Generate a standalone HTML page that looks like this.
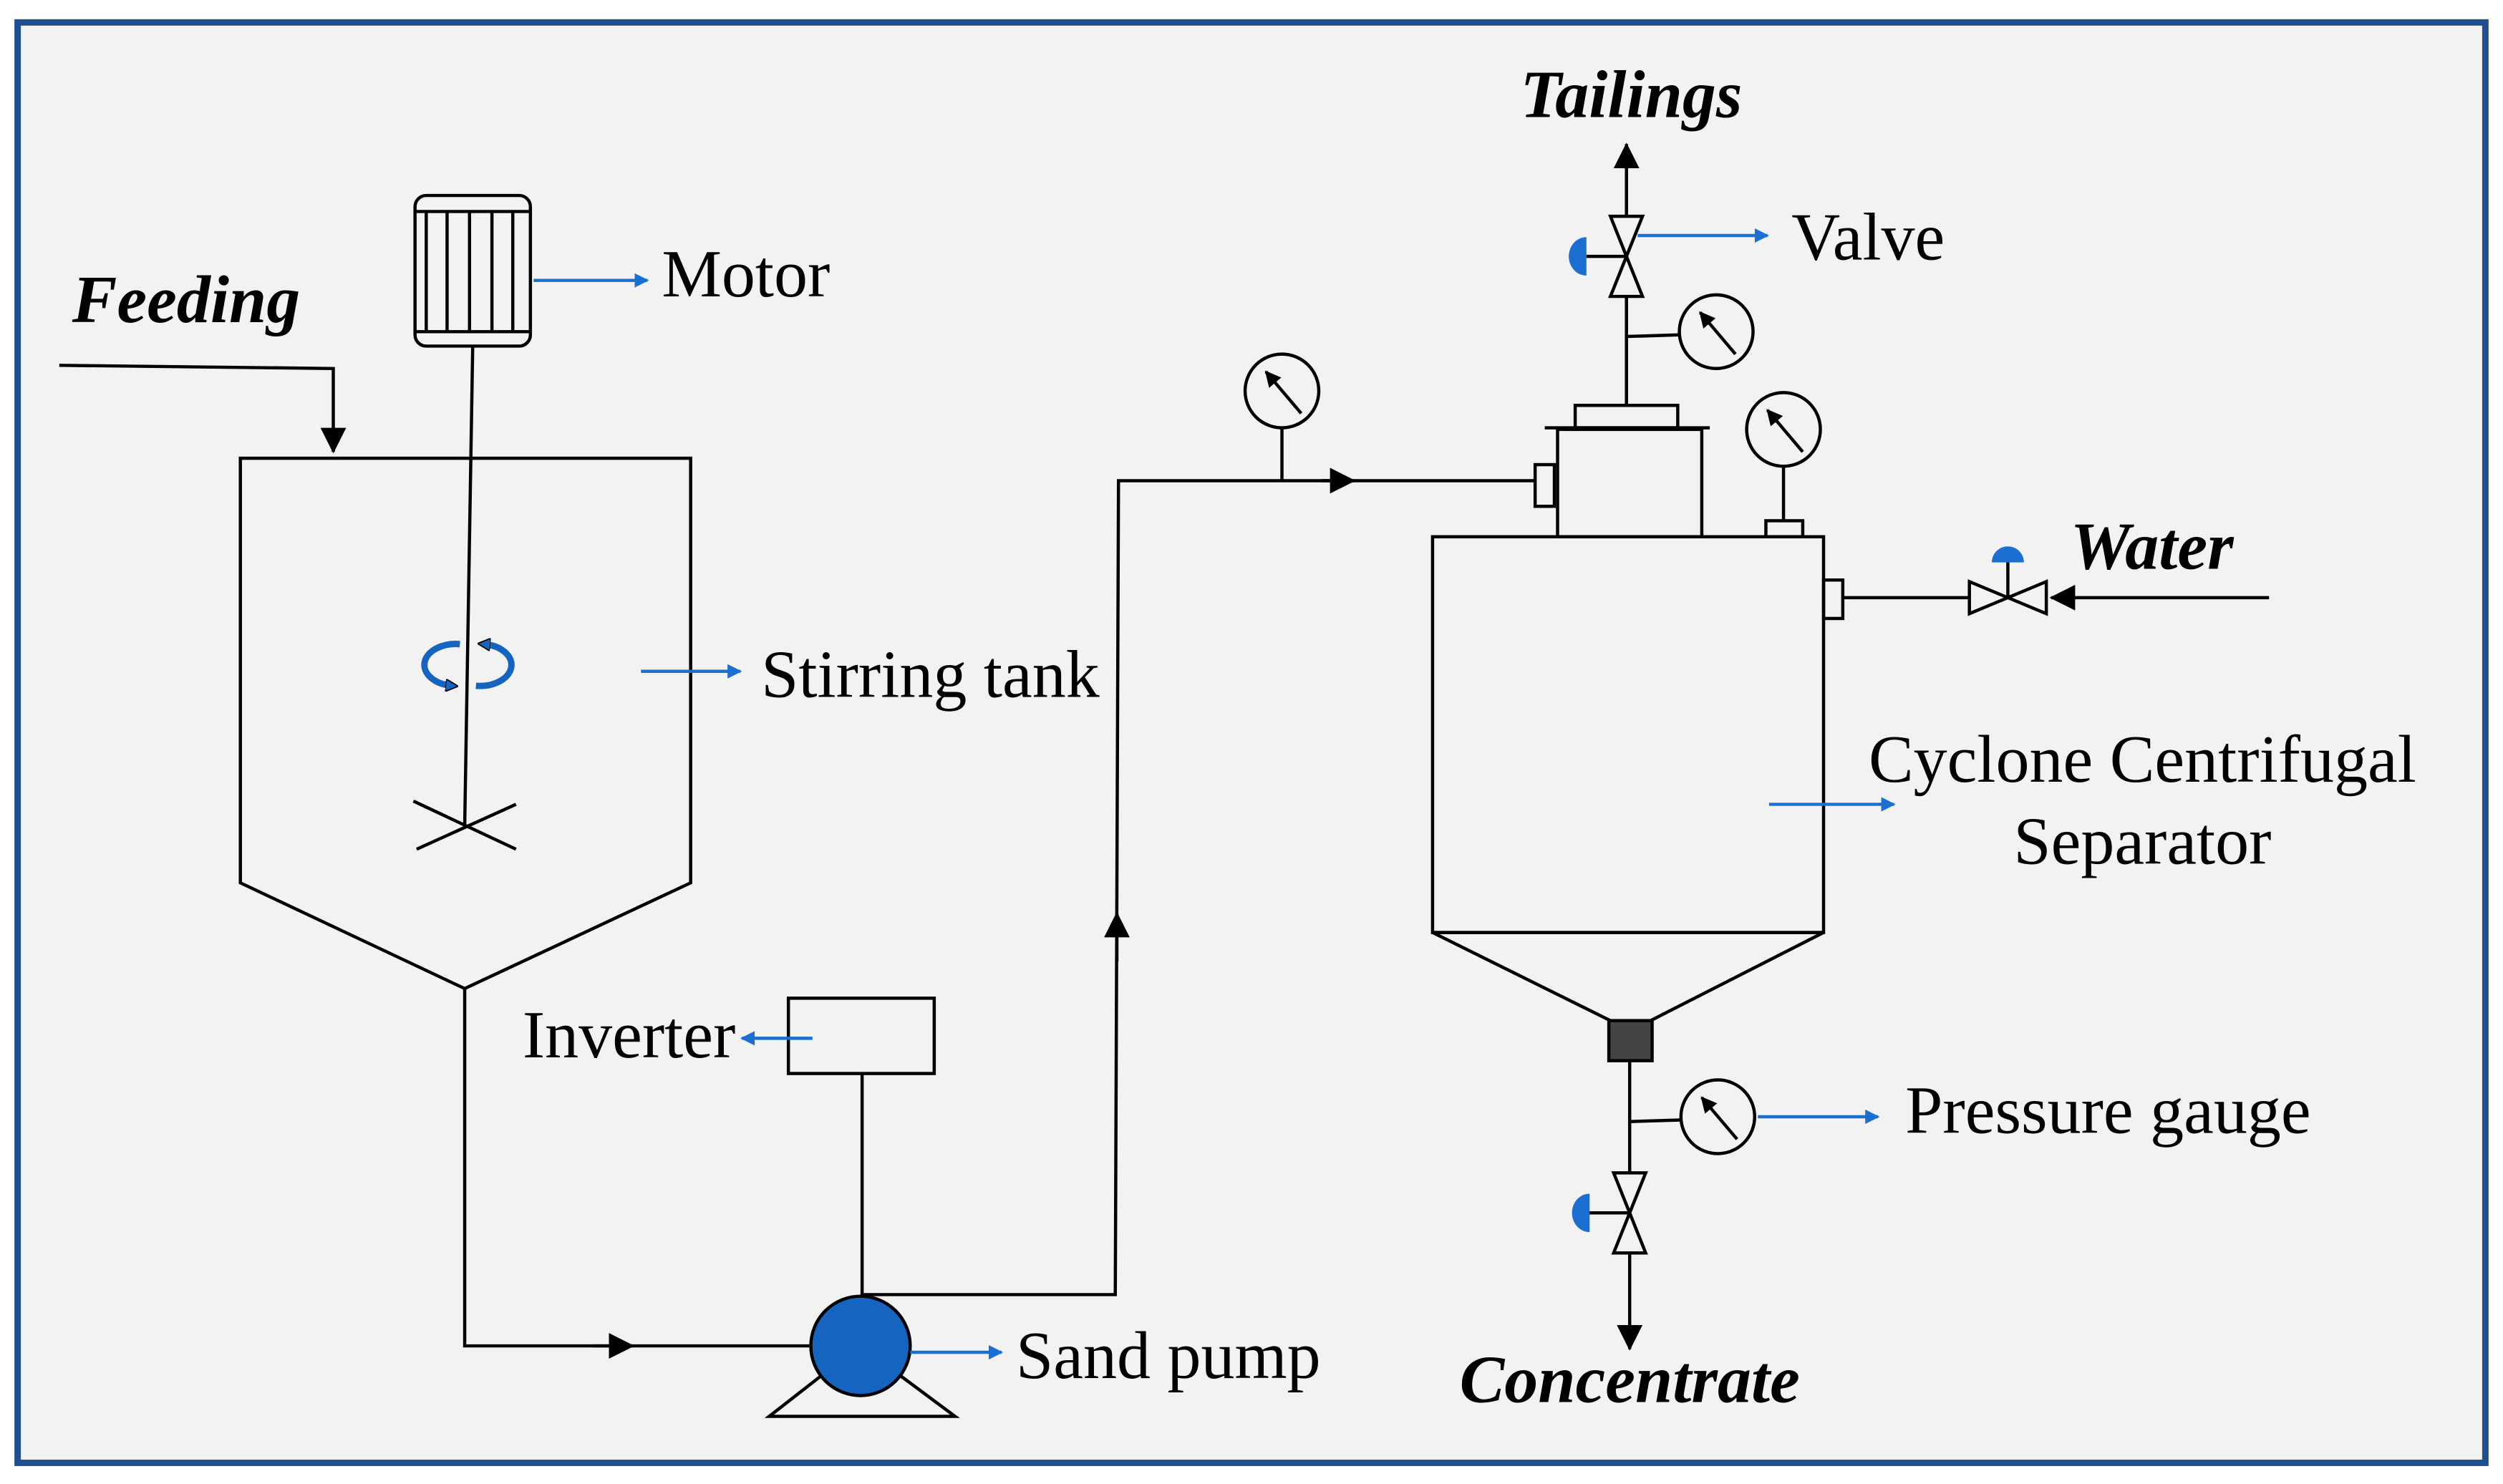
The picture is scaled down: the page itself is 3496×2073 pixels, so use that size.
<!DOCTYPE html>
<html><head><meta charset="utf-8"><style>html,body{margin:0;padding:0;background:#fff}svg{display:block}</style></head>
<body>
<svg width="3496" height="2073" viewBox="0 0 1562 926.2" preserveAspectRatio="none" xmlns="http://www.w3.org/2000/svg" font-family="Liberation Serif, serif">
<defs>
<marker id="ab" markerWidth="10" markerHeight="10" refX="9" refY="5" orient="auto" markerUnits="userSpaceOnUse"><path d="M0,0 L10,5 L0,10 z" fill="#000"/></marker>
<marker id="bl" markerWidth="9" markerHeight="9" refX="8" refY="4.5" orient="auto" markerUnits="userSpaceOnUse"><path d="M0,0 L9,4.5 L0,9 z" fill="#1a6fd0"/></marker>
<marker id="big" markerWidth="16" markerHeight="16" refX="15" refY="8" orient="auto" markerUnits="userSpaceOnUse"><path d="M0,0 L16,8 L0,16 z" fill="#000"/></marker>
<marker id="rb" markerWidth="8" markerHeight="8" refX="4" refY="4" orient="auto" markerUnits="userSpaceOnUse"><path d="M0,0 L8,4 L0,8 z" fill="#1565c0" stroke="#000" stroke-width="0.8"/></marker>
</defs>
<rect x="11" y="14" width="1540" height="899" fill="#f2f2f2" stroke="#1f4f8f" stroke-width="4"/>
<g stroke="#000" stroke-width="2" fill="none">
<polyline points="37,228 208,230 208,282" marker-end="url(#big)"/>
<rect x="259" y="122" width="72" height="94" rx="7" fill="#f2f2f2"/>
<line x1="259" y1="132" x2="331" y2="132"/><line x1="259" y1="207" x2="331" y2="207"/>
<line x1="266" y1="132" x2="266" y2="207"/><line x1="279" y1="132" x2="279" y2="207"/><line x1="293" y1="132" x2="293" y2="207"/><line x1="307" y1="132" x2="307" y2="207"/><line x1="320" y1="132" x2="320" y2="207"/>
<line x1="295" y1="216" x2="290" y2="515"/>
<line x1="258" y1="500" x2="322" y2="530"/><line x1="260" y1="530" x2="322" y2="502"/>
<polygon points="150,286 431,286 431,551 290,617 150,551"/>
<polyline points="290,617 290,840 505,840"/>
<line x1="370" y1="840" x2="395" y2="840" marker-end="url(#big)"/>
<polygon points="480,884 596,884 553,852 521,852"/>
<line x1="538" y1="809" x2="538" y2="670"/>
<rect x="492" y="623" width="91" height="47"/>
<polyline points="538,808 696,808 698,300 958,300"/>
<line x1="697" y1="600" x2="697" y2="570" marker-end="url(#big)"/>
<line x1="825" y1="300" x2="845" y2="300" marker-end="url(#big)"/>
<line x1="800" y1="267" x2="800" y2="300"/>
<circle cx="800" cy="244" r="23"/>
<rect x="958" y="290" width="12" height="26"/>
<rect x="972" y="268" width="90" height="67"/>
<line x1="964" y1="267" x2="1067" y2="267"/>
<rect x="983" y="253" width="64" height="14"/>
<line x1="1015" y1="253" x2="1015" y2="90" marker-end="url(#big)"/>
<polygon points="1005,135 1025,135 1005,185 1025,185" fill="#f2f2f2"/>
<line x1="990" y1="160" x2="1015" y2="160"/>
<line x1="1015" y1="210" x2="1048" y2="209"/>
<circle cx="1071" cy="207" r="23"/>
<circle cx="1113" cy="268" r="23"/>
<line x1="1113" y1="291" x2="1113" y2="325"/>
<rect x="1102" y="325" width="23" height="10"/>
<rect x="894" y="335" width="244" height="247"/>
<polygon points="894,582 1138,582 1030,637 1005,637"/>
<rect x="1004" y="637" width="27" height="25" fill="#444"/>
<rect x="1138" y="362" width="12" height="24"/>
<line x1="1150" y1="373" x2="1229" y2="373"/>
<polygon points="1229,363 1229,383 1277,363 1277,383" fill="#f2f2f2"/>
<line x1="1253" y1="373" x2="1253" y2="350"/>
<line x1="1416" y1="373" x2="1280" y2="373" marker-end="url(#big)"/>
<line x1="1017" y1="662" x2="1017" y2="842" marker-end="url(#big)"/>
<polygon points="1007,732 1027,732 1007,782 1027,782" fill="#f2f2f2"/>
<line x1="990" y1="757" x2="1017" y2="757"/>
<line x1="1017" y1="700" x2="1049" y2="699"/>
<circle cx="1072" cy="697" r="23"/>
</g>
<g stroke="#000" stroke-width="2">
<line x1="812" y1="258" x2="790" y2="232" marker-end="url(#ab)"/>
<line x1="1083" y1="221" x2="1061" y2="195" marker-end="url(#ab)"/>
<line x1="1125" y1="282" x2="1103" y2="256" marker-end="url(#ab)"/>
<line x1="1084" y1="711" x2="1062" y2="685" marker-end="url(#ab)"/>
</g>
<circle cx="537" cy="840" r="31" fill="#1565c0" stroke="#000" stroke-width="2"/>
<path d="M990,148 A11,12 0 0 0 990,172 Z" fill="#1a6fd0"/>
<path d="M992,745 A11,12 0 0 0 992,769 Z" fill="#1a6fd0"/>
<path d="M1243,351 A10,10 0 0 1 1263,351 Z" fill="#1a6fd0"/>
<g fill="none" stroke="#1565c0" stroke-width="4">
<path d="M287,402 A18,12 0 0 0 282,428" marker-end="url(#rb)"/>
<path d="M297,428 A18,12 0 0 0 302,402" marker-end="url(#rb)"/>
</g>
<g stroke="#1a6fd0" stroke-width="2">
<line x1="333" y1="175" x2="404" y2="175" marker-end="url(#bl)"/>
<line x1="400" y1="419" x2="462" y2="419" marker-end="url(#bl)"/>
<line x1="507" y1="648" x2="463" y2="648" marker-end="url(#bl)"/>
<line x1="568" y1="844" x2="625" y2="844" marker-end="url(#bl)"/>
<line x1="1022" y1="147" x2="1103" y2="147" marker-end="url(#bl)"/>
<line x1="1104" y1="502" x2="1182" y2="502" marker-end="url(#bl)"/>
<line x1="1097" y1="697" x2="1172" y2="697" marker-end="url(#bl)"/>
</g>
<g font-size="42" fill="#000">
<text x="413" y="185">Motor</text>
<text x="475" y="435">Stirring tank</text>
<text x="459" y="660" text-anchor="end">Inverter</text>
<text x="634" y="860">Sand pump</text>
<text x="1118" y="162">Valve</text>
<text x="1337" y="488" text-anchor="middle">Cyclone Centrifugal</text>
<text x="1337" y="539" text-anchor="middle">Separator</text>
<text x="1189" y="707">Pressure gauge</text>
</g>
<g font-size="42" font-style="italic" font-weight="bold" fill="#000">
<text x="45" y="201">Feeding</text>
<text x="1018" y="73" text-anchor="middle">Tailings</text>
<text x="1292" y="355">Water</text>
<text x="1017" y="875" text-anchor="middle">Concentrate</text>
</g>
</svg>
</body></html>
